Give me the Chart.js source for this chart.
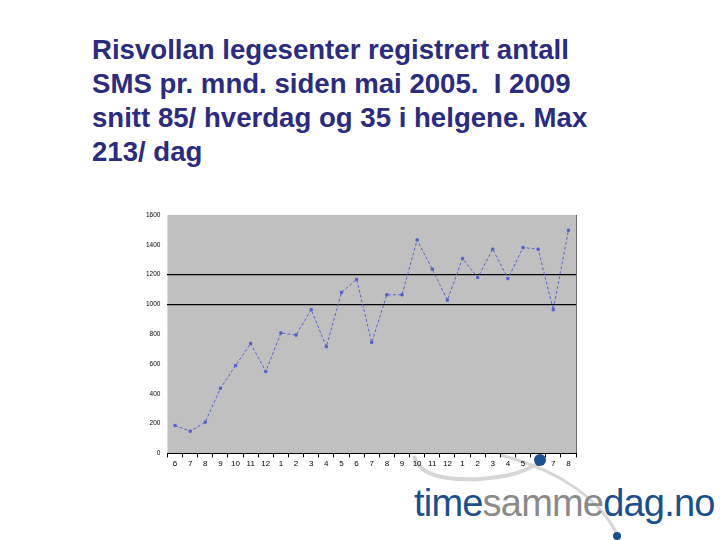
<!DOCTYPE html>
<html>
<head>
<meta charset="utf-8">
<script src="https://cdn.jsdelivr.net/npm/chart.js@4"></script>
<style>
  body { margin: 0; background: #fff; width: 720px; height: 540px; position: relative; overflow: hidden; font-family: Arial, "Liberation Sans", sans-serif; }
  #title { position: absolute; left: 92px; top: 33px; width: 540px; color: #2b2b80; font-weight: bold; font-size: 27.6px; line-height: 34px; }
  #wrap { position: absolute; left: 120px; top: 204px; width: 470px; height: 267px; }
  #logo { position: absolute; left: 414px; top: 482px; font-size: 38px; letter-spacing: -0.8px; }
  #logo .b { color: #1b4f8e; }
  #logo .g { color: #8a8a8a; }
  svg { position: absolute; left: 0; top: 0; }
</style>
</head>
<body>
<div id="title">Risvollan legesenter registrert antall SMS pr. mnd. siden mai 2005.&nbsp; I 2009 snitt 85/ hverdag og 35 i helgene. Max 213/ dag</div>
<svg width="720" height="540">
  <path d="M 414 456 C 418 474, 440 481, 480 479 C 510 477, 530 470, 540 461" fill="none" stroke="#d6d6d6" stroke-width="4"/>
  <path d="M 500 455 C 560 470, 600 500, 617 534" fill="none" stroke="#d6d6d6" stroke-width="3"/>
</svg>
<div id="wrap"><canvas id="smsChart"></canvas></div>
<div id="logo"><span class="b">time</span><span class="g">samme</span><span class="b">dag.no</span></div>
<svg width="720" height="540" style="pointer-events:none">
  <circle cx="540" cy="460" r="6" fill="#1b4f8e"/>
  <circle cx="617" cy="536" r="4" fill="#1b4f8e"/>
</svg>
<script>
const months = ['6', '7', '8', '9', '10', '11', '12', '1', '2', '3', '4', '5', '6', '7', '8', '9', '10', '11', '12', '1', '2', '3', '4', '5', '6', '7', '8'];
const smsCount = [187, 149, 210, 437, 589, 738, 549, 808, 794, 964, 716, 1080, 1167, 745, 1064, 1064, 1432, 1236, 1029, 1307, 1180, 1370, 1173, 1381, 1370, 964, 1497];
const yTicks = [0, 200, 400, 600, 800, 1000, 1200, 1400, 1600];
const markedLines = [1000, 1200];

// gray plot area plus the dark right edge
const plotBg = {
    id: 'plotBg',
    beforeDraw(chart) {
        const a = chart.chartArea;
        const c = chart.ctx;
        c.save();
        c.fillStyle = '#c0c0c0';
        c.fillRect(a.left, a.top, a.right - a.left, a.bottom - a.top);
        c.strokeStyle = '#6a6a6a';
        c.lineWidth = 1;
        c.beginPath();
        c.moveTo(a.right + 0.5, a.top);
        c.lineTo(a.right + 0.5, a.bottom);
        c.stroke();
        c.restore();
    }
};

const ctx = document.getElementById('smsChart').getContext('2d');
const smsChart = new Chart(ctx, {
    type: 'line',
    data: {
        labels: months,
        datasets: [{
            label: 'SMS',
            data: smsCount,
            borderColor: '#5a66c8',
            backgroundColor: '#4b55b8',
            borderWidth: 1,
            borderDash: [3, 2],
            pointRadius: 1.6,
            pointStyle: 'rect',
            tension: 0
        }]
    },
    options: {
        responsive: true,
        maintainAspectRatio: false,
        animation: false,
        layout: { padding: { top: 6, right: 14, left: 19, bottom: 0 } },
        plugins: { legend: { display: false }, tooltip: { enabled: false } },
        scales: {
            x: {
                offset: true,
                grid: { offset: true, drawOnChartArea: false, tickLength: 4, color: '#000' },
                border: { color: '#000', width: 1 },
                ticks: { color: '#000', font: { size: 8, family: 'Arial' }, maxRotation: 0, autoSkip: false, padding: 2 }
            },
            y: {
                min: 0,
                max: 1600,
                afterBuildTicks: (axis) => { axis.ticks = yTicks.map(v => ({ value: v })); },
                grid: {
                    drawTicks: false,
                    color: (c) => markedLines.includes(c.tick.value) ? '#000' : 'rgba(0,0,0,0)',
                    lineWidth: 1.2
                },
                border: { display: false },
                ticks: { color: '#000', font: { size: 6.5, family: 'Arial' }, padding: 7, callback: (v) => String(v) }
            }
        }
    },
    plugins: [plotBg]
});
</script>
</body>
</html>
